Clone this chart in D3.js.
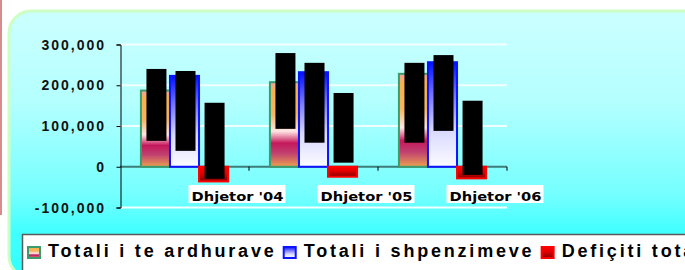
<!DOCTYPE html>
<html><head><meta charset="utf-8">
<script src="https://cdn.jsdelivr.net/npm/d3@7/dist/d3.min.js"></script>
<style>html,body{margin:0;padding:0;background:#fff;}svg{display:block;}</style>
</head><body>
<script>
// ---- data ----
const categories = ["Dhjetor '04", "Dhjetor '05", "Dhjetor '06"];
const seriesNames = ["Totali i te ardhurave", "Totali i shpenzimeve", "Defiçiti total"];
const revenues = [187000, 207500, 228000];
const expenditures = [223000, 232000, 256500];
const deficit = [-36000, -24500, -28500];
// value-label boxes (rendered as solid black blocks in the reference): top / bottom values
const labelTop = [[240000, 235000, 157000], [279000, 255000, 181000], [255000, 274000, 162000]];
const labelBottom = [[63500, 39000, -29500], [93000, 59000, 10000], [59000, 88000, -20000]];
const yTicks = [-100000, 0, 100000, 200000, 300000];
const yTickLabels = ["-100,000", "0", "100,000", "200,000", "300,000"];

const W = 685, H = 270;
const svg = d3.select("body").append("svg").attr("width", W).attr("height", H);
const defs = svg.append("defs");

function grad(id, stops, x2 = 0, y2 = 1) {
  const g = defs.append("linearGradient").attr("id", id)
    .attr("x1", 0).attr("y1", 0).attr("x2", x2).attr("y2", y2);
  stops.forEach(s => g.append("stop").attr("offset", s[0]).attr("stop-color", s[1]));
}
grad("bg", [[0, "#ccffff"], [0.34, "#b4ffff"], [0.69, "#74ffff"], [0.82, "#44ffff"], [1, "#30ffff"]]);
grad("g0", [[0, "#f2a4a0"], [0.1, "#f8b050"], [0.38, "#f8b462"], [0.58, "#ffe6e6"], [0.64, "#e890aa"], [0.72, "#c4185c"], [0.84, "#c04070"], [1, "#eca050"]]);
grad("g1", [[0, "#0010ff"], [0.3, "#7070ff"], [0.65, "#d8d8ff"], [1, "#fcfcff"]]);
grad("g2", [[0, "#ff0000"], [0.45, "#e00000"], [1, "#800000"]]);
const fills = ["url(#g0)", "url(#g1)", "url(#g2)"];
const strokes = ["#3c9c6c", "#0a14ff", "#ff0000"];

// background decorations
svg.append("rect").attr("x", 0).attr("y", 0).attr("width", 2).attr("height", 215).attr("fill", "#d88c8c");
svg.append("rect").attr("x", 9).attr("y", 11).attr("width", 700).attr("height", 267).attr("rx", 22)
  .attr("fill", "url(#bg)").attr("stroke", "#ccffc4").attr("stroke-width", 3);

// scales
const y = d3.scaleLinear().domain([-100000, 300000]).range([207.5, 44.5]);
const x = d3.scaleBand().domain(categories).range([120, 507]).paddingInner(0).paddingOuter(0);
const xs = d3.scaleBand().domain([0, 1, 2]).range([0, x.bandwidth()]).paddingInner(0).paddingOuter(0.72);

// gridlines
svg.append("g").selectAll("line").data(yTicks.filter(v => v !== 0)).join("line")
  .attr("x1", 120).attr("x2", 507).attr("y1", d => y(d)).attr("y2", d => y(d))
  .attr("stroke", "#f2ffff").attr("stroke-width", 2);

// zero line
svg.append("line").attr("x1", 120).attr("x2", 507).attr("y1", y(0)).attr("y2", y(0))
  .attr("stroke", "#3c7c78").attr("stroke-width", 2);
// x tick marks
svg.append("g").selectAll("line").data(categories).join("line")
  .attr("x1", d => x(d) + x.bandwidth()).attr("x2", d => x(d) + x.bandwidth())
  .attr("y1", y(0)).attr("y2", y(0) + 4).attr("stroke", "#000").attr("stroke-width", 1);

// bars
const series = [revenues, expenditures, deficit];
const barG = svg.append("g");
series.forEach((vals, si) => {
  barG.append("g").selectAll("rect").data(vals).join("rect")
    .attr("x", (d, i) => x(categories[i]) + xs(si))
    .attr("width", xs.bandwidth())
    .attr("y", d => y(Math.max(0, d)))
    .attr("height", d => Math.abs(y(d) - y(0)))
    .attr("fill", fills[si]).attr("stroke", strokes[si]).attr("stroke-width", 2);
});

// y axis
const yAxis = d3.axisLeft(y).tickValues(yTicks).tickSize(4).tickFormat("");
const ya = svg.append("g").attr("transform", "translate(120.5,0)").call(yAxis);
ya.select(".domain").attr("stroke", "#000");
ya.selectAll(".tick line").attr("stroke", "#000");
svg.append("g").selectAll("text").data(yTicks).join("text")
  .attr("x", 106).attr("y", d => y(d) + 5).attr("text-anchor", "end")
  .attr("font-family", "'Liberation Sans', Arial, sans-serif").attr("font-weight", "bold")
  .attr("font-size", 14).attr("letter-spacing", 2).attr("fill", "#111")
  .text((d, i) => yTickLabels[i]);

// value label blocks
series.forEach((vals, si) => {
  svg.append("g").selectAll("rect").data(vals).join("rect")
    .attr("x", (d, i) => x(categories[i]) + xs(si) + xs.bandwidth() / 2 - 9)
    .attr("width", 20)
    .attr("y", (d, i) => y(labelTop[i][si]))
    .attr("height", (d, i) => y(labelBottom[i][si]) - y(labelTop[i][si]))
    .attr("fill", "#000");
});

// category labels
const cl = svg.append("g").selectAll("g").data(categories).join("g")
  .attr("transform", d => `translate(${x(d) + x.bandwidth() / 2 + 4},185)`);
cl.append("rect").attr("width", 97).attr("height", 18).attr("fill", "#fff");
cl.append("text").attr("x", 3).attr("y", 16)
  .attr("font-family", "'DejaVu Sans', sans-serif").attr("font-weight", 900).attr("font-size", 13)
  .attr("textLength", 92).attr("lengthAdjust", "spacingAndGlyphs").attr("fill", "#000")
  .text(d => d);

// legend
svg.append("rect").attr("x", 22.5).attr("y", 234.5).attr("width", 700).attr("height", 60)
  .attr("fill", "#fff").attr("stroke", "#5a5a5a").attr("stroke-width", 1.5);
let lx = 28;
const ls = 2.8;
seriesNames.forEach((name, si) => {
  svg.append("rect").attr("x", lx).attr("y", 247).attr("width", 12).attr("height", 11)
    .attr("fill", fills[si]).attr("stroke", strokes[si]).attr("stroke-width", 2);
  const t = svg.append("text").attr("x", lx + 20).attr("y", 257)
    .attr("font-family", "'Liberation Sans', Arial, sans-serif").attr("font-weight", "bold")
    .attr("font-size", 18).attr("letter-spacing", ls).attr("fill", "#000").text(name);
  lx = lx + 20 + t.node().getComputedTextLength() - ls + 10;
});
</script>
</body></html>
